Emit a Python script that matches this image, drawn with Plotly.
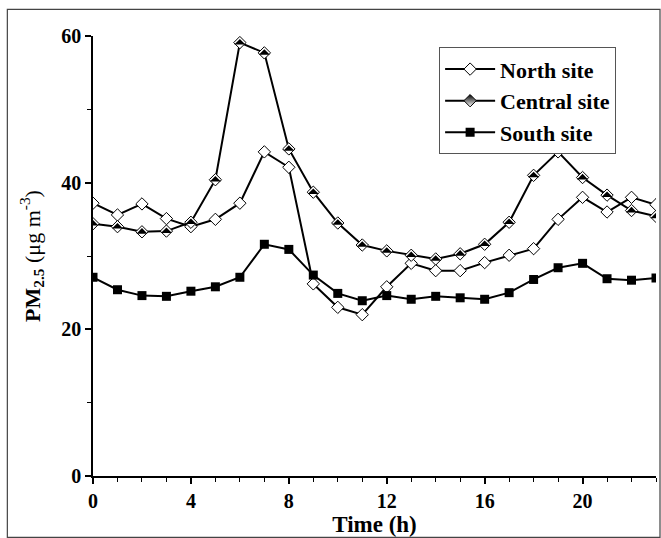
import plotly.graph_objects as go

hours = list(range(24))
north = [37.2, 35.6, 37.1, 35.1, 34.0, 35.0, 37.2, 44.2, 42.1, 26.2, 23.0, 22.0,
         25.8, 29.0, 28.0, 28.0, 29.1, 30.1, 31.0, 35.0, 38.0, 36.0, 38.0, 37.0]
central = [34.4, 34.0, 33.3, 33.4, 34.6, 40.4, 59.1, 57.7, 44.6, 38.7, 34.5, 31.5,
           30.7, 30.1, 29.6, 30.3, 31.6, 34.6, 41.0, 44.2, 40.7, 38.3, 36.2, 35.4]
south = [27.1, 25.4, 24.6, 24.5, 25.2, 25.8, 27.1, 31.6, 30.9, 27.4, 24.9, 23.9,
         24.6, 24.1, 24.5, 24.3, 24.1, 25.0, 26.8, 28.4, 29.0, 26.9, 26.7, 27.0]
names = ["North site", "Central site", "South site"]
x_ticks = [0, 4, 8, 12, 16, 20]
y_ticks = [0, 20, 40, 60]

FONT = "Liberation Serif"
W, H = 661, 538
L, R, T, B = 92.7, 5, 35.7, 62.3

fig = go.Figure()
line = dict(color="black", width=2)
fig.add_trace(go.Scatter(x=hours, y=north, name=names[0], mode="lines+markers", line=line,
                         marker=dict(symbol="diamond", size=9.5, color="white",
                                     line=dict(color="black", width=1))))
# legend entry for Central site (half-filled look)
fig.add_trace(go.Scatter(x=[None], y=[None], name=names[1], mode="lines+markers", line=line,
                         legendgroup="c",
                         marker=dict(symbol="diamond", size=9.5, color="black",
                                     gradient=dict(type="vertical", color="white"),
                                     line=dict(color="black", width=1))))
fig.add_trace(go.Scatter(x=hours, y=central, name=names[1], mode="lines+markers", line=line,
                         legendgroup="c", showlegend=False,
                         marker=dict(symbol="diamond", size=9.5, color="white",
                                     line=dict(color="black", width=1))))
fig.add_trace(go.Scatter(x=hours, y=central, name=names[1], mode="markers", showlegend=False,
                         legendgroup="c", hoverinfo="skip",
                         marker=dict(symbol="triangle-ne", size=8.7, angle=-45, color="black",
                                     line=dict(width=0))))
fig.add_trace(go.Scatter(x=hours, y=south, name=names[2], mode="lines+markers", line=line,
                         marker=dict(symbol="square", size=9, color="black",
                                     line=dict(color="black", width=0))))

pw = W - L - R
ph = H - T - B
def px(p):
    return (p - L) / pw
def py(p):
    return (H - B - p) / ph

fig.add_shape(type="rect", xref="paper", yref="paper",
              x0=px(7), x1=px(660), y0=py(537), y1=py(9),
              line=dict(color="#444", width=1.2), fillcolor="rgba(0,0,0,0)")

tickfont = dict(family=FONT, size=20, color="black", weight="bold")
fig.update_layout(
    width=W, height=H,
    margin=dict(l=L, r=R, t=T, b=B, autoexpand=False),
    paper_bgcolor="white", plot_bgcolor="white",
    showlegend=True,
    legend=dict(x=px(439), y=py(47), xanchor="left", yanchor="top",
                bordercolor="#555", borderwidth=1, bgcolor="white",
                font=dict(family=FONT, size=22, color="black", weight="bold"),
                tracegroupgap=0, itemwidth=50),
    xaxis=dict(range=[0, 23], tickvals=x_ticks, ticktext=[str(v) for v in x_ticks],
               showgrid=False, zeroline=False, showline=True, linecolor="black", linewidth=1.5,
               ticks="outside", ticklen=6, tickwidth=1.5, tickcolor="black",
               minor=dict(dtick=1, ticks="outside", ticklen=4, tickwidth=1, tickcolor="black"),
               tickfont=tickfont,
               title=dict(text="Time (h)", standoff=4,
                          font=dict(family=FONT, size=23, color="black", weight="bold"))),
    yaxis=dict(range=[0, 60], tickvals=y_ticks, ticktext=[str(v) for v in y_ticks],
               showgrid=False, zeroline=False, showline=True, linecolor="black", linewidth=1.5,
               ticks="outside", ticklen=6, tickwidth=1.5, tickcolor="black",
               minor=dict(tick0=0, dtick=10, ticks="outside", ticklen=4, tickwidth=1, tickcolor="black"),
               tickfont=tickfont,
               title=dict(text="<b>PM<sub>2.5</sub></b> (μg m<sup>-3</sup>)", standoff=15,
                          font=dict(family=FONT, size=22, color="black"))),
)

fig.write_html("out.html", config={"displayModeBar": False},
               post_script="document.body.style.margin='0';document.body.style.overflow='hidden';")
